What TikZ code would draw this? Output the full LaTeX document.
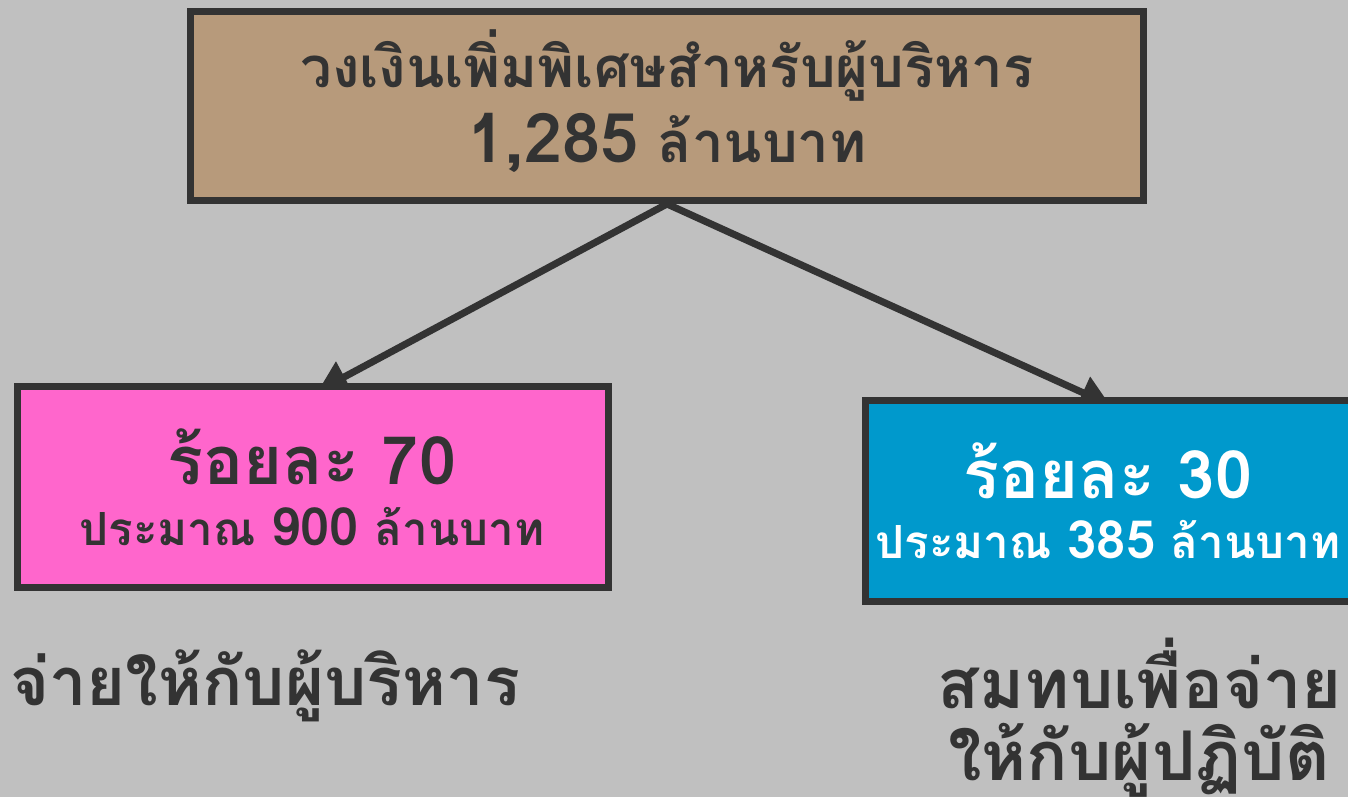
\documentclass[tikz,border=0pt]{standalone}
\usepackage{fontspec}
\newfontfamily\thaifont[Script=Thai]{Loma}
\usetikzlibrary{arrows.meta,backgrounds}
\definecolor{bggray}{HTML}{C0C0C0}
\definecolor{dgray}{HTML}{333333}
\definecolor{boxtan}{HTML}{B79A7B}
\definecolor{boxpink}{HTML}{FF66CC}
\definecolor{boxblue}{HTML}{0099CC}
\tikzset{
  box/.style={draw=dgray, line width=4pt, inner sep=0pt},
  txt/.style={text=dgray, anchor=base, inner sep=0pt, font=\thaifont\bfseries},
  link/.style={draw=dgray, line width=4pt, -{Triangle[length=17pt,width=19pt]}}
}
\begin{document}
\begin{tikzpicture}[x=0.02cm, y=-0.02cm]
\clip (0,0) rectangle (1348,797);

% boxes
\node[box, fill=boxtan, minimum width=19.06cm, minimum height=3.78cm] (top) at (667, 106) {};
\node[box, fill=boxpink, minimum width=11.82cm, minimum height=4.02cm] (left) at (313, 487) {};
\node[box, fill=boxblue, minimum width=9.78cm, minimum height=4.02cm] (right) at (1110, 501) {};

\coordinate (lefttip) at (318, 391);
\coordinate (righttip) at (1110, 405);

\begin{scope}[on background layer]
\fill[bggray] (0,0) rectangle (1348,797);
\draw[link] (top.south) -- (lefttip);
\draw[link] (top.south) -- (righttip);
\end{scope}

% texts
\node[txt, font=\thaifont\bfseries\fontsize{32}{32}\selectfont] (topa) at (667, 88) {วงเงินเพิ่มพิเศษสำหรับผู้บริหาร};
\node[txt, font=\thaifont\bfseries\fontsize{32}{32}\selectfont] (topb) at (667, 163) {{\fontsize{39}{39}\selectfont 1,285} ล้านบาท};
\node[txt, font=\thaifont\bfseries\fontsize{38}{38}\selectfont] (lefta) at (312, 484) {ร้อยละ 70};
\node[txt, font=\thaifont\bfseries\fontsize{26}{26}\selectfont] (leftb) at (312, 545) {ประมาณ {\fontsize{30}{30}\selectfont 900} ล้านบาท};
\node[txt, text=white, font=\thaifont\bfseries\fontsize{38}{38}\selectfont] (righta) at (1108, 498) {ร้อยละ 30};
\node[txt, text=white, font=\thaifont\bfseries\fontsize{26}{26}\selectfont] (rightb) at (1108, 558) {ประมาณ {\fontsize{30}{30}\selectfont 385} ล้านบาท};
\node[txt, font=\thaifont\bfseries\fontsize{38}{38}\selectfont] (pay) at (265, 705) {จ่ายให้กับผู้บริหาร};
\node[txt, font=\thaifont\bfseries\fontsize{39}{39}\selectfont] (fundA) at (1140, 708) {สมทบเพื่อจ่าย};
\node[txt, font=\thaifont\bfseries\fontsize{39}{39}\selectfont] (fundB) at (1139, 780) {ให้กับผู้ปฏิบัติ};
\end{tikzpicture}
\end{document}
